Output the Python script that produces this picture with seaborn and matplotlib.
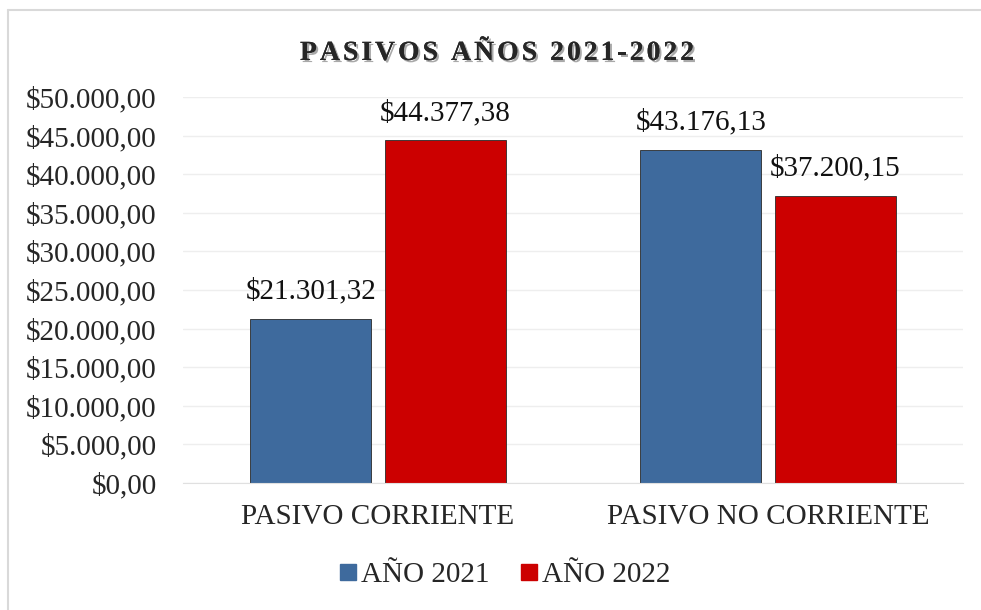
import numpy as np
import pandas as pd
import matplotlib
matplotlib.use("Agg")
import matplotlib.pyplot as plt
import matplotlib.patheffects as pe
from matplotlib.ticker import FuncFormatter
from matplotlib.lines import Line2D
import seaborn as sns

# data
categories = ["PASIVO CORRIENTE", "PASIVO NO CORRIENTE"]
years = ["AÑO 2021", "AÑO 2022"]
values_2021 = [21301.32, 43176.13]
values_2022 = [44377.38, 37200.15]
colors = ["#3E6A9D", "#CC0000"]
title = "PASIVOS AÑOS 2021-2022"

df = pd.DataFrame({
    "categoria": categories * 2,
    "anio": [years[0]] * 2 + [years[1]] * 2,
    "valor": values_2021 + values_2022,
})


def money(v):
    s = f"{v:,.2f}"
    s = s.replace(",", "X").replace(".", ",").replace("X", ".")
    return "$" + s


sns.set_style("white")
plt.rcParams["font.family"] = ["Liberation Serif", "DejaVu Serif"]
FS = 21

fig = plt.figure(figsize=(9.81, 6.10), dpi=100)
ax = fig.add_axes([183 / 981, 1 - 483 / 610, (963 - 183) / 981, (483 - 97) / 610])

sns.barplot(data=df, x="categoria", y="valor", hue="anio", hue_order=years,
            palette=colors, saturation=1, width=0.69, gap=0.1, ax=ax, legend=False,
            edgecolor="#2a2a2a", linewidth=0.6)

# data labels
for cont in ax.containers:
    for bar in cont:
        h = bar.get_height()
        ax.annotate(money(h), (bar.get_x() + bar.get_width() / 2, h),
                    xytext=(0, 20), textcoords="offset points",
                    ha="center", va="center", fontsize=FS, color="#111111")

ax.set_ylim(0, 50000)
ax.set_xlim(-0.5, 1.5)
ax.set_yticks(np.arange(0, 50001, 5000))
ax.yaxis.set_major_formatter(FuncFormatter(lambda v, p: money(v)))
ax.tick_params(axis="y", labelsize=FS, pad=19, length=0)
ax.tick_params(axis="x", labelsize=FS, pad=15, length=0)
ax.set_xlabel("")
ax.set_ylabel("")
ax.grid(axis="y", color="#eeeeee", linewidth=1)
ax.set_axisbelow(True)
for s in ["top", "right", "left"]:
    ax.spines[s].set_visible(False)
ax.spines["bottom"].set_color("#e0e0e0")

# title: bold, letter-spaced, with a soft shadow
renderer = fig.canvas.get_renderer()
tfs = 20
spacing = 3.0  # extra px between letters
shadow = [pe.withSimplePatchShadow(offset=(1.5, -1.5), alpha=0.35), pe.Normal()]
widths = []
for ch in title:
    t = fig.text(0, 0, ch, fontsize=tfs, fontweight="bold")
    widths.append(t.get_window_extent(renderer).width)
    t.remove()
total = sum(widths) + spacing * (len(title) - 1)
x = 497 - total / 2
for ch, w in zip(title, widths):
    fig.text(x / 981, 1 - 60 / 610, ch, ha="left", va="baseline",
             fontsize=tfs, fontweight="bold", path_effects=shadow)
    x += w + spacing

# legend
handles = [Line2D([], [], marker="s", linestyle="", markersize=11,
                  markerfacecolor=c, markeredgecolor=c) for c in colors]
fig.legend(handles, years, loc="center", bbox_to_anchor=(504 / 981, 1 - 575 / 610),
           ncol=2, frameon=False, fontsize=FS, handletextpad=0.1,
           columnspacing=1.0, handlelength=0.7)

# chart frame (left and top edges visible)
fig.add_artist(Line2D([8 / 981, 8 / 981], [0, 1 - 10 / 610], transform=fig.transFigure,
                      color="#d9d9d9", linewidth=1.5))
fig.add_artist(Line2D([8 / 981, 1], [1 - 10 / 610, 1 - 10 / 610], transform=fig.transFigure,
                      color="#d9d9d9", linewidth=1.5))

fig.savefig("out.png", dpi=100)
